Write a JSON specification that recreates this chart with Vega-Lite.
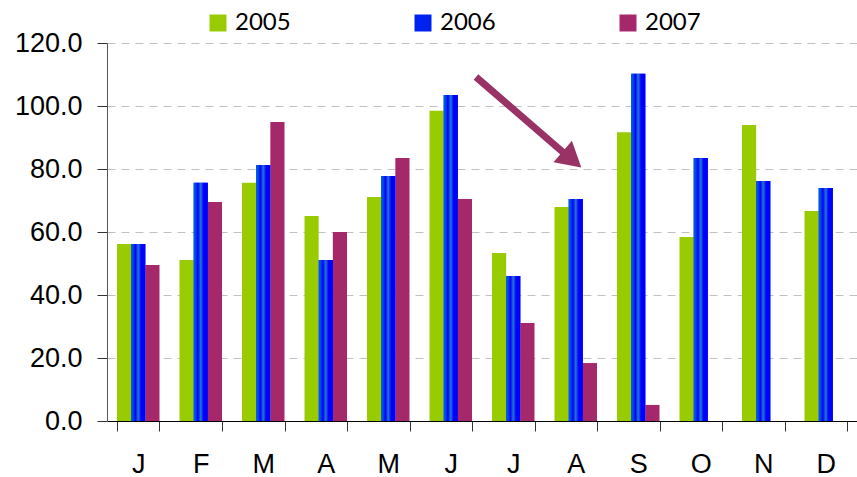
{
  "$schema": "https://vega.github.io/schema/vega-lite/v6.json",
  "width": 750,
  "height": 378,
  "autosize": "none",
  "padding": {"left": 107, "top": 43, "right": 0, "bottom": 56},
  "config": {"view": {"stroke": null}, "font": "Liberation Sans"},
  "datasets": {
    "rain": [
      {"month": "Jan", "year": "2005", "value": 56.2},
      {"month": "Jan", "year": "2006", "value": 56.2},
      {"month": "Jan", "year": "2007", "value": 49.5},
      {"month": "Feb", "year": "2005", "value": 51.1},
      {"month": "Feb", "year": "2006", "value": 75.6},
      {"month": "Feb", "year": "2007", "value": 69.5},
      {"month": "Mar", "year": "2005", "value": 75.6},
      {"month": "Mar", "year": "2006", "value": 81.3},
      {"month": "Mar", "year": "2007", "value": 94.9},
      {"month": "Apr", "year": "2005", "value": 65.1},
      {"month": "Apr", "year": "2006", "value": 51.1},
      {"month": "Apr", "year": "2007", "value": 60.0},
      {"month": "May", "year": "2005", "value": 71.1},
      {"month": "May", "year": "2006", "value": 77.8},
      {"month": "May", "year": "2007", "value": 83.5},
      {"month": "Jun", "year": "2005", "value": 98.5},
      {"month": "Jun", "year": "2006", "value": 103.5},
      {"month": "Jun", "year": "2007", "value": 70.5},
      {"month": "Jul", "year": "2005", "value": 53.3},
      {"month": "Jul", "year": "2006", "value": 46.0},
      {"month": "Jul", "year": "2007", "value": 31.1},
      {"month": "Aug", "year": "2005", "value": 67.9},
      {"month": "Aug", "year": "2006", "value": 70.5},
      {"month": "Aug", "year": "2007", "value": 18.4},
      {"month": "Sep", "year": "2005", "value": 91.7},
      {"month": "Sep", "year": "2006", "value": 110.2},
      {"month": "Sep", "year": "2007", "value": 5.1},
      {"month": "Oct", "year": "2005", "value": 58.4},
      {"month": "Oct", "year": "2006", "value": 83.5},
      {"month": "Nov", "year": "2005", "value": 94.0},
      {"month": "Nov", "year": "2006", "value": 76.2},
      {"month": "Dec", "year": "2005", "value": 66.7},
      {"month": "Dec", "year": "2006", "value": 74.0}
    ]
  },
  "layer": [
    {
      "data": {"name": "rain"},
      "encoding": {
        "x": {
          "field": "month", "type": "nominal",
          "sort": ["Jan","Feb","Mar","Apr","May","Jun","Jul","Aug","Sep","Oct","Nov","Dec"],
          "scale": {"paddingInner": 0.32, "paddingOuter": 0.16},
          "axis": {
            "title": null, "labelAngle": 0, "labelExpr": "substring(datum.label,0,1)",
            "labelFontSize": 27, "labelColor": "#000", "labelPadding": 20,
            "tickBand": "extent", "tickSize": 10, "tickColor": "#333", "domainColor": "#000",
            "grid": false
          }
        },
        "xOffset": {"field": "year", "type": "nominal", "scale": {"domain": ["2005","2006","2007"], "paddingInner": 0}},
        "y": {
          "field": "value", "type": "quantitative",
          "scale": {"domain": [0, 120], "nice": false},
          "axis": {
            "title": null, "values": [0,20,40,60,80,100,120], "format": ".1f",
            "labelFontSize": 27, "labelColor": "#000", "labelPadding": 15,
            "tickSize": 10, "tickColor": "#333", "domainColor": "#555",
            "grid": true, "gridColor": "#C0C0C0", "gridDash": [8, 6]
          }
        }
      },
      "layer": [
        {
          "mark": {"type": "bar"},
          "encoding": {
            "color": {
              "field": "year", "type": "nominal",
              "scale": {"domain": ["2005","2006","2007"], "range": ["#99CC00", "#0022EE", "#A5296A"]},
              "legend": {
                "title": null, "orient": "none", "legendX": 99, "legendY": -32,
                "direction": "horizontal", "symbolType": "square", "symbolSize": 289,
                "symbolStrokeWidth": 0, "symbolOpacity": 1, "labelFont": "Lato", "labelFontSize": 24,
                "labelColor": "#000", "labelOffset": 5, "columnPadding": 120
              }
            }
          }
        },
        {
          "transform": [{"filter": "datum.year == '2006'"}],
          "mark": {"type": "bar", "color": {"gradient": "linear", "x1": 0, "y1": 0, "x2": 1, "y2": 0, "stops": [
            {"offset": 0, "color": "#0066CC"},
            {"offset": 0.15, "color": "#0044EE"},
            {"offset": 0.3, "color": "#0000FF"},
            {"offset": 0.5, "color": "#2277CC"},
            {"offset": 0.7, "color": "#0000FF"},
            {"offset": 1, "color": "#0000FF"}
          ]}}
        }
      ]
    },
    {
      "data": {"values": [{"x": 5.904, "y": 109.2, "x2": 7.4, "y2": 83.5}]},
      "mark": {"type": "rule", "color": "#993366", "strokeWidth": 7},
      "encoding": {
        "x": {"field": "x", "type": "quantitative", "scale": {"domain": [0, 12], "nice": false}, "axis": null},
        "x2": {"field": "x2"},
        "y": {"field": "y", "type": "quantitative", "title": null},
        "y2": {"field": "y2"}
      }
    },
    {
      "data": {"values": [{"x": 7.44, "y": 83.0}]},
      "mark": {"type": "point", "shape": "triangle-up", "filled": true, "color": "#993366", "opacity": 1, "size": 800, "angle": 130.6},
      "encoding": {
        "x": {"field": "x", "type": "quantitative", "scale": {"domain": [0, 12], "nice": false}, "axis": null},
        "y": {"field": "y", "type": "quantitative", "title": null}
      }
    }
  ],
  "resolve": {"scale": {"x": "independent"}, "axis": {"x": "independent"}}
}
